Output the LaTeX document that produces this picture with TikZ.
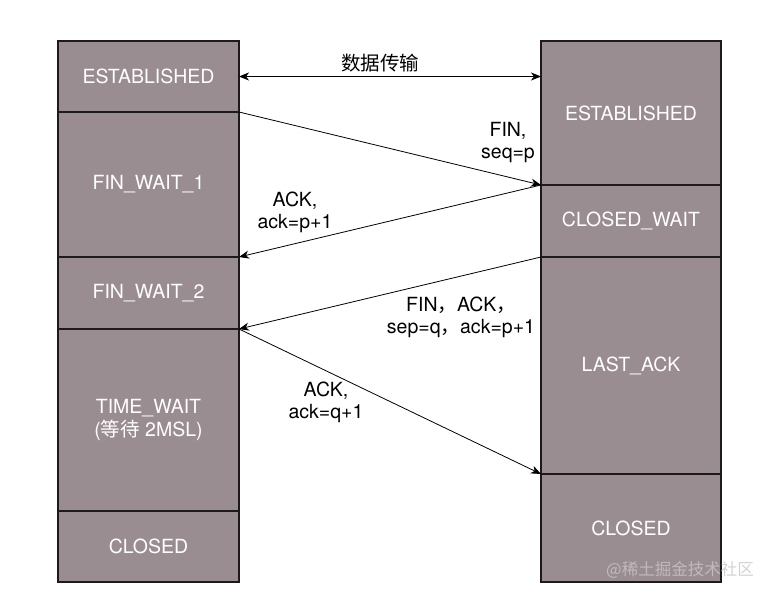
\documentclass[tikz,border=0pt]{standalone}
\usepackage{fontspec}
\setmainfont{TeX Gyre Heros}
\newfontfamily\cjk{Noto Sans CJK SC}
\usetikzlibrary{arrows.meta}
\definecolor{boxfill}{HTML}{9A8D91}
\definecolor{boxline}{HTML}{1E1A1C}
\begin{document}
\begin{tikzpicture}[x=1pt,y=-1pt,
  state/.style={draw=boxline,line width=1.1pt,fill=boxfill,text=white,inner sep=0pt,outer sep=0pt,
    align=center,font=\fontsize{19.5}{23}\selectfont},
  lstate/.style={state,minimum width=181pt},
  rstate/.style={state,minimum width=180pt},
  msg/.style={draw=black,line width=0.8pt,-{Stealth[length=10pt,width=8pt,inset=3pt]}},
  lbl/.style={align=center,font=\fontsize{19.5}{22}\selectfont,inner sep=0pt}]
\useasboundingbox (0,0) rectangle (771,598);
% left column
\node[lstate,minimum height=71pt]  (est1) at (148.5,76.5) {ESTABLISHED};
\node[lstate,minimum height=145pt] (fw1)  at (148.5,184.5) {FIN\_WAIT\_1};
\node[lstate,minimum height=72pt]  (fw2)  at (148.5,293) {FIN\_WAIT\_2};
\node[lstate,minimum height=182pt] (tw)   at (148.5,420) {TIME\_WAIT\\({\cjk 等待} 2MSL)};
\node[lstate,minimum height=71pt]  (cl1)  at (148.5,546.5) {CLOSED};
% right column
\node[rstate,minimum height=144pt] (est2) at (631,113) {ESTABLISHED};
\node[rstate,minimum height=72pt]  (cw)   at (631,221) {CLOSED\_WAIT};
\node[rstate,minimum height=217pt] (la)   at (631,365.5) {LAST\_ACK};
\node[rstate,minimum height=108pt] (cl2)  at (631,528) {CLOSED};
% messages
\draw[msg,{Stealth[length=10pt,width=8pt,inset=3pt]}-{Stealth[length=10pt,width=8pt,inset=3pt]}]
  (est1.east) -- (est1.east -| est2.west);
\node[lbl] (data) at (380,63) {\cjk 数据传输};
\draw[msg] (est1.south east) -- (est2.south west);
\node[lbl] (l1) at (508,143) {FIN,\\seq=p};
\draw[msg] (cw.north west) -- (fw1.south east);
\node[lbl] (l2) at (295,212) {ACK,\\ack=p+1};
\draw[msg] (la.north west) -- (fw2.south east);
\node[lbl] (l3) at (461,317) {FIN{\cjk ，}ACK{\cjk ，}\\sep=q{\cjk ，}ack=p+1};
\draw[msg] (tw.north east) -- (cl2.north west);
\node[lbl] (l4) at (326,402) {ACK,\\ack=q+1};
% watermark
\node[inner sep=0pt,text=black!22,text opacity=0.8,font=\cjk\fontsize{16.5}{20}\selectfont] (wm) at (680,570) {@稀土掘金技术社区};
\end{tikzpicture}
\end{document}
